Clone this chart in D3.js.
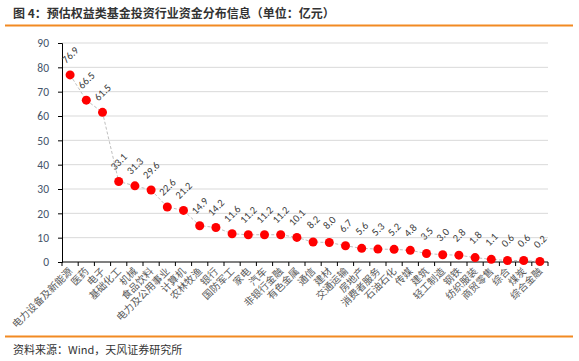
<!DOCTYPE html>
<html>
<head>
<meta charset="utf-8">
<script src="https://cdn.jsdelivr.net/npm/d3@7"></script>
<style>
  body { margin: 0; background: #fff; }
  text { font-family: "Noto Sans CJK SC", "Microsoft YaHei", sans-serif; }
</style>
</head>
<body>
<svg width="579" height="361"></svg>
<script>
// industries (x categories)
var industries = ["电力设备及新能源", "医药", "电子", "基础化工", "机械", "食品饮料", "电力及公用事业", "计算机",
  "农林牧渔", "银行", "国防军工", "家电", "汽车", "非银行金融", "有色金属", "通信", "建材", "交通运输",
  "房地产", "消费者服务", "石油石化", "传媒", "建筑", "轻工制造", "钢铁", "纺织服装", "商贸零售", "综合",
  "煤炭", "综合金融"];
// fund money per industry, 亿元
var amounts = [76.9, 66.5, 61.5, 33.1, 31.3, 29.6, 22.6, 21.2, 14.9, 14.2, 11.6, 11.2, 11.2, 11.2, 10.1,
  8.2, 8.0, 6.7, 5.6, 5.3, 5.2, 4.8, 3.5, 3.0, 2.8, 1.8, 1.1, 0.6, 0.6, 0.2];
var yTicks = [0, 10, 20, 30, 40, 50, 60, 70, 80, 90];

var svg = d3.select("svg");
var plotLeft = 62, plotRight = 548, plotTop = 43, plotBottom = 262;

// title + orange rules
svg.append("text").attr("x", 13).attr("y", 18)
  .attr("font-size", 12).attr("font-weight", "bold").attr("fill", "#333")
  .text("图 4：预估权益类基金投资行业资金分布信息（单位：亿元）");
svg.append("line").attr("x1", 5).attr("x2", 573).attr("y1", 25.5).attr("y2", 25.5)
  .attr("stroke", "#F28A22").attr("stroke-width", 2);
svg.append("line").attr("x1", 5).attr("x2", 573).attr("y1", 336.5).attr("y2", 336.5)
  .attr("stroke", "#F28A22").attr("stroke-width", 2);
svg.append("text").attr("x", 13).attr("y", 354)
  .attr("font-size", 11).attr("fill", "#333")
  .text("资料来源：Wind，天风证券研究所");

var x = d3.scaleBand().domain(industries).range([plotLeft, plotRight]);
var y = d3.scaleLinear().domain([0, 90]).range([plotBottom, plotTop]);

// gridlines
svg.append("g").selectAll("line").data(yTicks.slice(1)).enter().append("line")
  .attr("x1", plotLeft).attr("x2", plotRight)
  .attr("y1", function(d) { return y(d); }).attr("y2", function(d) { return y(d); })
  .attr("stroke", "#d9d9d9").attr("stroke-width", 1);

// y axis
var yAxis = svg.append("g").attr("transform", "translate(" + plotLeft + ",0)")
  .call(d3.axisLeft(y).tickValues(yTicks).tickSize(4).tickPadding(9));
yAxis.select(".domain").attr("stroke", "#000");
yAxis.selectAll(".tick line").attr("stroke", "#000");
yAxis.selectAll("text").attr("font-size", 11.5).attr("fill", "#44546A")
  .style("font-family", "Calibri, 'Liberation Sans', sans-serif");

// x axis: ticks at band edges
var xAxis = svg.append("g").attr("transform", "translate(0," + plotBottom + ")");
xAxis.append("line").attr("x1", plotLeft).attr("x2", plotRight).attr("stroke", "#000");
xAxis.selectAll("line.tk").data(d3.range(industries.length + 1)).enter().append("line")
  .attr("class", "tk")
  .attr("x1", function(i) { return plotLeft + i * x.bandwidth(); })
  .attr("x2", function(i) { return plotLeft + i * x.bandwidth(); })
  .attr("y1", 0).attr("y2", 4).attr("stroke", "#000");
xAxis.selectAll("text").data(industries).enter().append("text")
  .attr("transform", function(d) {
    return "translate(" + (x(d) + x.bandwidth() / 2 + 3) + ",10) rotate(-45)";
  })
  .attr("text-anchor", "end").attr("font-size", 10).attr("fill", "#595959")
  .text(function(d) { return d; });

var cx = function(d, i) { return x(industries[i]) + x.bandwidth() / 2; };

// dashed connector
var line = d3.line().x(cx).y(function(d) { return y(d); });
svg.append("path").datum(amounts).attr("d", line)
  .attr("fill", "none").attr("stroke", "#bfbfbf").attr("stroke-width", 1)
  .attr("stroke-dasharray", "3,2");

// points
svg.append("g").selectAll("circle").data(amounts).enter().append("circle")
  .attr("cx", cx).attr("cy", function(d) { return y(d); })
  .attr("r", 4.5).attr("fill", "#FF0000");

// value labels
svg.append("g").selectAll("text").data(amounts).enter().append("text")
  .attr("transform", function(d, i) {
    return "translate(" + cx(d, i) + "," + (y(d) - 20) + ") rotate(-45)";
  })
  .attr("text-anchor", "middle").attr("dy", "0.35em")
  .attr("font-size", 10.5).attr("fill", "#404040")
  .style("font-family", "Calibri, 'Liberation Sans', sans-serif")
  .text(function(d) { return d.toFixed(1); });
</script>
</body>
</html>
